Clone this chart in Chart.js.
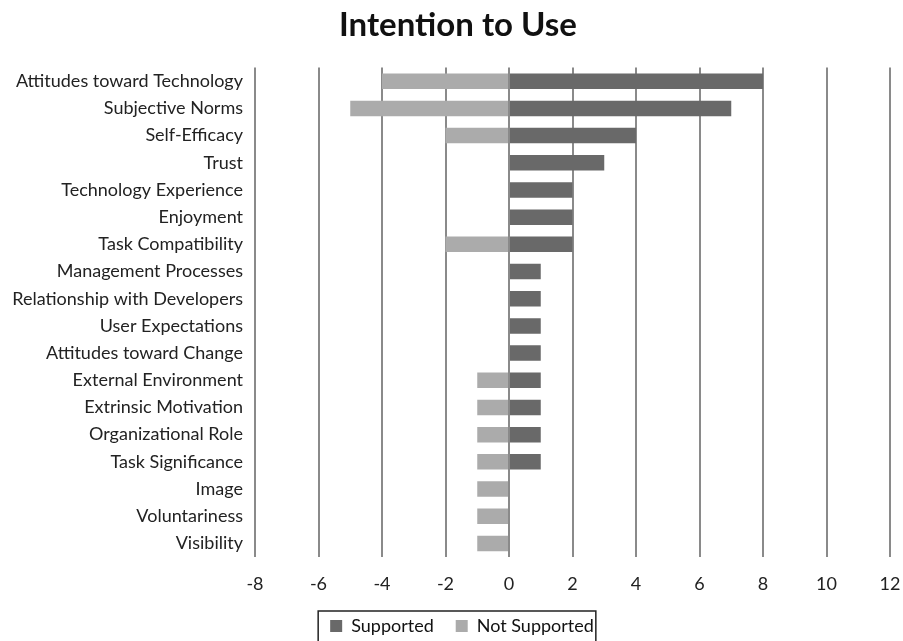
<!DOCTYPE html>
<html>
<head>
<meta charset="utf-8">
<script src="https://cdn.jsdelivr.net/npm/chart.js@4/dist/chart.umd.min.js"></script>
<style>
  html, body { margin: 0; padding: 0; background: #fff; }
  #wrap { width: 903px; height: 641px; }
</style>
</head>
<body>
<div id="wrap"><canvas id="chart" width="903" height="641"></canvas></div>
<script>
const categories = [
  'Attitudes toward Technology', 'Subjective Norms', 'Self-Efficacy', 'Trust',
  'Technology Experience', 'Enjoyment', 'Task Compatibility', 'Management Processes',
  'Relationship with Developers', 'User Expectations', 'Attitudes toward Change',
  'External Environment', 'Extrinsic Motivation', 'Organizational Role',
  'Task Significance', 'Image', 'Voluntariness', 'Visibility',
];
const supported = [8, 7, 4, 3, 2, 2, 2, 1, 1, 1, 1, 1, 1, 1, 1, 0, 0, 0];
const notSupported = [-4, -5, -2, 0, 0, 0, -2, 0, 0, 0, 0, -1, -1, -1, -1, -1, -1, -1];
const xTicks = [-8, -6, -4, -2, 0, 2, 4, 6, 8, 10, 12];

const FONT = 'Lato, "Open Sans", sans-serif';

// outline around the legend items, like the boxed legend in the original
const legendBox = {
  id: 'legendBox',
  afterLayout(chart) {
    // the original legend and title sit right of centre
    chart.legend.left += 17;
    chart.legend.right += 17;
    chart.legend.top -= 14;
    chart.legend.bottom -= 14;
    chart.titleBlock.left += 13;
    chart.titleBlock.right += 13;
  },
  afterDraw(chart) {
    const boxes = chart.legend.legendHitBoxes;
    if (!boxes || !boxes.length) return;
    const left = Math.min(...boxes.map((b) => b.left)) - 12;
    const right = Math.max(...boxes.map((b) => b.left + b.width)) + 2;
    const top = boxes[0].top - 6;
    const bottom = boxes[0].top + boxes[0].height + 7;
    const ctx = chart.ctx;
    ctx.save();
    ctx.strokeStyle = '#222';
    ctx.lineWidth = 1.5;
    ctx.strokeRect(left, top, right - left, bottom - top);
    ctx.restore();
  },
};

new Chart(document.getElementById('chart'), {
  type: 'bar',
  data: {
    labels: categories,
    datasets: [
      {
        label: 'Supported',
        data: supported,
        backgroundColor: '#696969',
        barPercentage: 0.57,
        categoryPercentage: 1,
      },
      {
        label: 'Not Supported',
        data: notSupported,
        backgroundColor: '#ababab',
        barPercentage: 0.57,
        categoryPercentage: 1,
      },
    ],
  },
  options: {
    indexAxis: 'y',
    responsive: false,
    animation: false,
    layout: { padding: { left: 0, right: 13, top: 0, bottom: -18 } },
    plugins: {
      title: {
        display: true,
        text: 'Intention to Use',
        color: '#111',
        font: { family: FONT, size: 33, weight: 'bold' },
        padding: { top: 6, bottom: 22 },
      },
      legend: {
        position: 'bottom',
        labels: {
          color: '#111',
          font: { family: FONT, size: 18 },
          boxWidth: 12,
          boxHeight: 12,
          padding: 22,
        },
      },
      tooltip: { enabled: false },
    },
    scales: {
      x: {
        stacked: true,
        min: -8,
        max: 12,
        afterBuildTicks(scale) {
          scale.ticks = xTicks.map((v) => ({ value: v }));
        },
        afterFit(scale) {
          scale.height = 52;
          scale.paddingRight = 0;
          scale.paddingLeft = 0;
        },
        grid: { color: '#8a8a8a', lineWidth: 2, drawTicks: false },
        border: { display: false },
        ticks: {
          color: '#222',
          padding: 16,
          font: { family: FONT, size: 18 },
        },
      },
      y: {
        stacked: true,
        afterFit(scale) {
          scale.width = 255;
        },
        grid: { display: false, drawTicks: false },
        border: { display: false },
        ticks: {
          color: '#222',
          padding: 12,
          font: { family: FONT, size: 18 },
        },
      },
    },
  },
  plugins: [legendBox],
});
</script>
</body>
</html>
